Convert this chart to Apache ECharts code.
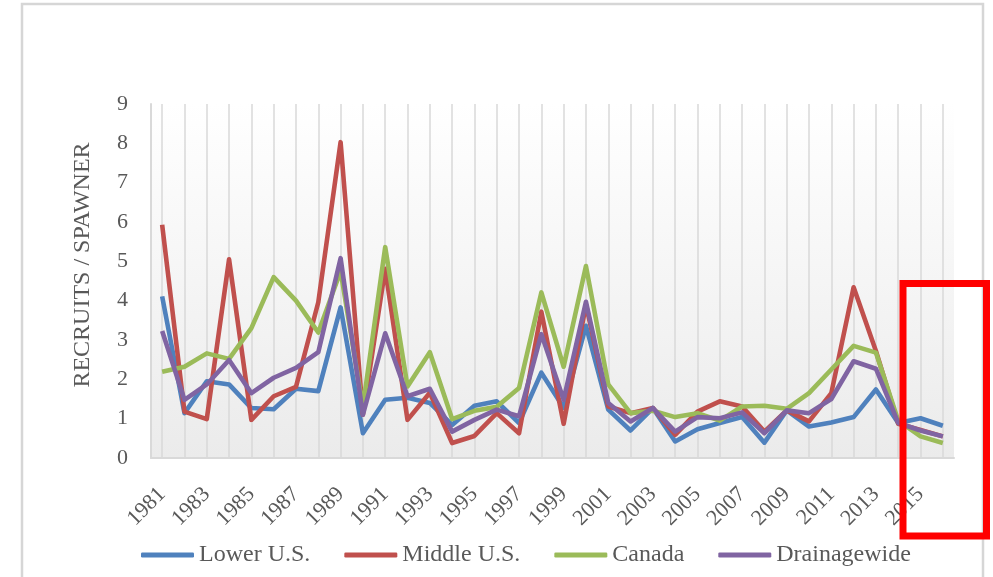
<!DOCTYPE html>
<html>
<head>
<meta charset="utf-8">
<script src="https://cdn.jsdelivr.net/npm/echarts@6/dist/echarts.min.js"></script>
<style>
  html, body { margin: 0; padding: 0; background: #ffffff; }
  #chart { width: 993px; height: 577px; }
</style>
</head>
<body>
<div id="chart"></div>
<script>
// Recruits per spawner by region, 1981-2016
const years = ['1981','1982','1983','1984','1985','1986','1987','1988','1989','1990',
  '1991','1992','1993','1994','1995','1996','1997','1998','1999','2000',
  '2001','2002','2003','2004','2005','2006','2007','2008','2009','2010',
  '2011','2012','2013','2014','2015','2016'];

const lowerUS = [4.11, 1.14, 1.95, 1.87, 1.27, 1.24, 1.76, 1.70, 3.83, 0.63,
  1.48, 1.53, 1.40, 0.84, 1.33, 1.44, 0.89, 2.17, 1.28, 3.36,
  1.23, 0.70, 1.27, 0.42, 0.73, 0.89, 1.04, 0.39, 1.21, 0.80,
  0.90, 1.04, 1.74, 0.89, 1.01, 0.82];

const middleUS = [5.93, 1.18, 0.99, 5.05, 0.97, 1.57, 1.81, 3.96, 8.03, 1.10,
  4.81, 0.97, 1.66, 0.38, 0.56, 1.14, 0.63, 3.72, 0.87, 3.90,
  1.31, 1.14, 1.27, 0.59, 1.18, 1.44, 1.31, 0.67, 1.21, 0.93,
  1.65, 4.34, 2.72, 0.87, 0.71, 0.55];

const canada = [2.19, 2.32, 2.66, 2.52, 3.30, 4.60, 4.00, 3.19, 4.75, 1.30,
  5.36, 1.82, 2.69, 0.99, 1.20, 1.30, 1.78, 4.21, 2.32, 4.88,
  1.87, 1.14, 1.20, 1.04, 1.14, 0.95, 1.31, 1.33, 1.25, 1.65,
  2.25, 2.85, 2.68, 0.95, 0.55, 0.38];

const drainagewide = [3.23, 1.48, 1.87, 2.49, 1.65, 2.04, 2.29, 2.69, 5.08, 1.10,
  3.17, 1.57, 1.76, 0.67, 0.97, 1.23, 1.06, 3.15, 1.48, 3.97,
  1.40, 0.93, 1.27, 0.67, 1.04, 1.01, 1.16, 0.63, 1.21, 1.14,
  1.50, 2.46, 2.27, 0.89, 0.70, 0.55];

const yTicks = { min: 0, max: 9, step: 1 };

const seriesDefs = [
  { name: 'Lower U.S.', data: lowerUS, color: '#4F81BD' },
  { name: 'Middle U.S.', data: middleUS, color: '#C0504D' },
  { name: 'Canada', data: canada, color: '#9BBB59' },
  { name: 'Drainagewide', data: drainagewide, color: '#8064A2' }
];

const FONT = '"Liberation Serif", "Times New Roman", serif';
const TEXT = '#595959';
const GRIDLINE = '#d9d9d9';

const chart = echarts.init(document.getElementById('chart'), null, { renderer: 'canvas' });

chart.setOption({
  animation: false,
  backgroundColor: '#ffffff',
  grid: {
    left: 151, right: 39, top: 104, bottom: 119,
    show: true,
    borderWidth: 0,
    backgroundColor: new echarts.graphic.LinearGradient(0, 0, 0, 1, [
      { offset: 0, color: '#ffffff' },
      { offset: 1, color: '#ebebeb' }
    ])
  },
  legend: {
    left: 136,
    top: 538,
    itemWidth: 53,
    itemHeight: 5,
    itemGap: 34,
    icon: 'roundRect',
    textStyle: { fontFamily: FONT, fontSize: 24, color: TEXT },
    data: seriesDefs.map(s => s.name)
  },
  xAxis: {
    type: 'category',
    data: years,
    boundaryGap: true,
    axisLine: { show: true, lineStyle: { color: GRIDLINE, width: 2 } },
    axisTick: { show: false },
    splitLine: { show: true, alignWithLabel: true, interval: 0, lineStyle: { color: GRIDLINE, width: 1.5 } },
    axisLabel: {
      interval: 1,
      rotate: 45,
      margin: 33,
      fontFamily: FONT,
      fontSize: 22,
      color: TEXT
    }
  },
  yAxis: {
    type: 'value',
    min: yTicks.min,
    max: yTicks.max,
    interval: yTicks.step,
    axisLine: { show: true, lineStyle: { color: GRIDLINE, width: 2 } },
    axisTick: { show: false },
    splitLine: { show: false },
    axisLabel: { margin: 23, fontFamily: FONT, fontSize: 22, color: TEXT }
  },
  graphic: [
    {
      type: 'rect',
      z: 0,
      silent: true,
      shape: { x: 22, y: 4, width: 961, height: 640 },
      style: { fill: null, stroke: '#d6d6d6', lineWidth: 2.5 }
    },
    {
      type: 'text',
      x: 83,
      y: 265,
      rotation: Math.PI / 2,
      silent: true,
      style: {
        text: 'RECRUITS / SPAWNER',
        fontFamily: FONT,
        fontSize: 24,
        fill: TEXT,
        align: 'center',
        verticalAlign: 'middle'
      }
    },
    {
      type: 'rect',
      z: 100,
      silent: true,
      shape: { x: 903, y: 283.5, width: 83.5, height: 252.5 },
      style: { fill: null, stroke: '#ff0000', lineWidth: 7 }
    }
  ],
  series: seriesDefs.map((s, i) => ({
    name: s.name,
    type: 'line',
    data: s.data,
    symbol: 'none',
    z: 2 + i,
    color: s.color,
    lineStyle: { width: 4.6, color: s.color, join: 'round' }
  }))
});
</script>
</body>
</html>
